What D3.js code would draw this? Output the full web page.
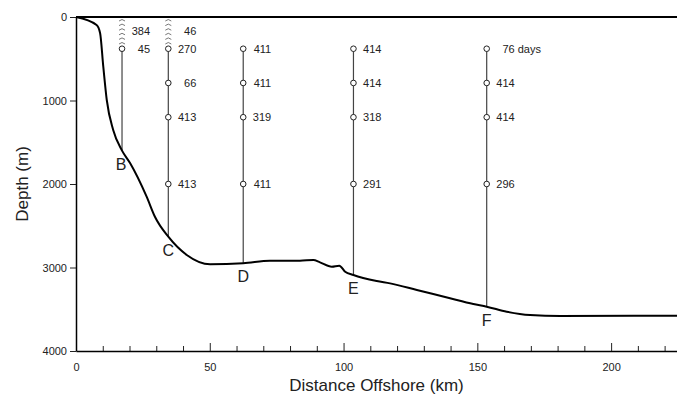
<!DOCTYPE html>
<html>
<head>
<meta charset="utf-8">
<script src="https://cdn.jsdelivr.net/npm/d3@7"></script>
<style>
  body { margin: 0; background: #fff; }
  svg { display: block; font-family: "Liberation Sans", Arial, sans-serif; }
</style>
</head>
<body>
<div id="chart"></div>
<script>
// bathymetry profile
const profileKm    = [0, 7.7, 9, 10.2, 11.5, 13.9, 17.2, 20.2, 26.4, 29.5, 34.5, 41.4, 50.1, 62.5, 72.5, 83.7, 88.7, 91.2, 95.6, 98.4, 100.6, 103.7, 112.4, 117.4, 127.4, 139.8, 148.5, 153.5, 161, 169.7, 181, 225];
const profileDepth = [0, 96, 192, 595, 994, 1353, 1600, 1749, 2152, 2392, 2631, 2850, 2962, 2950, 2918, 2918, 2910, 2938, 2990, 2978, 3050, 3090, 3162, 3190, 3269, 3369, 3437, 3469, 3529, 3569, 3581, 3577];

// moorings
const stationNames = ['B', 'C', 'D', 'E', 'F'];
const stationKm    = [17.2, 34.5, 62.5, 103.7, 153.5];
const instrumentDepths = [380, 790, 1200, 2000];
// record length (days) per instrument, null = no instrument
const recordDays = [
  ['45', null, null, null],
  ['270', '66', '413', '413'],
  ['411', '411', '319', '411'],
  ['414', '414', '318', '291'],
  ['76', '414', '414', '296']
];
// upward-looking profiler records above the top instrument
const profilerDays = ['384', '46', null, null, null];

const xTicksMajor = [0, 50, 100, 150, 200];
const yTicks = [0, 1000, 2000, 3000, 4000];

const W = 677, H = 399;
const svg = d3.select('#chart').append('svg').attr('width', W).attr('height', H);

const x = d3.scaleLinear().domain([0, 225]).range([76, 678]);
const y = d3.scaleLinear().domain([0, 4000]).range([17, 351]);

const depthAt = km => {
  const i = d3.bisectLeft(profileKm, km);
  if (i <= 0) return profileDepth[0];
  const t = (km - profileKm[i - 1]) / (profileKm[i] - profileKm[i - 1]);
  return profileDepth[i - 1] + t * (profileDepth[i] - profileDepth[i - 1]);
};

// axes
const minorTicks = d3.range(0, 226, 10).filter(d => d % 50 !== 0);
svg.append('g')
  .attr('transform', `translate(0,${y(4000)})`)
  .call(d3.axisBottom(x).tickValues(minorTicks).tickSize(-5).tickFormat(''))
  .call(g => g.select('.domain').remove());
const xAxis = svg.append('g')
  .attr('transform', `translate(0,${y(4000)})`)
  .call(d3.axisBottom(x).tickValues(xTicksMajor).tickSize(-8).tickPadding(12).tickSizeOuter(0));
xAxis.select('.domain').attr('stroke-width', 1.5);

const yAxis = svg.append('g')
  .attr('transform', `translate(${x(0)},0)`)
  .call(d3.axisLeft(y).tickValues(yTicks).tickSize(6).tickPadding(3).tickSizeOuter(0).tickFormat(d3.format('d')));
yAxis.select('.domain').attr('stroke-width', 1.5);

svg.selectAll('.tick text').attr('font-size', 11).attr('fill', '#222').attr('font-family', '"Liberation Sans", Arial, sans-serif');
svg.selectAll('.tick line').attr('stroke', '#222');

// sea surface
svg.append('line')
  .attr('x1', x(0)).attr('x2', W)
  .attr('y1', y(0)).attr('y2', y(0))
  .attr('stroke', '#000').attr('stroke-width', 2);

// station lines
const stations = stationNames.map((name, i) => ({
  name, km: stationKm[i], floor: depthAt(stationKm[i]), days: recordDays[i], profiler: profilerDays[i]
}));

svg.append('g').selectAll('line')
  .data(stations)
  .join('line')
  .attr('x1', d => x(d.km)).attr('x2', d => x(d.km))
  .attr('y1', d => y(instrumentDepths[0]))
  .attr('y2', d => y(d.floor))
  .attr('stroke', '#444').attr('stroke-width', 1.2);

// bathymetry
svg.append('path')
  .datum(profileKm.map((k, i) => [k, profileDepth[i]]))
  .attr('fill', 'none')
  .attr('stroke', '#000')
  .attr('stroke-width', 2)
  .attr('d', d3.line().x(d => x(d[0])).y(d => y(d[1])).curve(d3.curveMonotoneX));

// profiler beams
stations.filter(s => s.profiler).forEach(s => {
  const g = svg.append('g');
  d3.range(6).forEach(k => {
    const yy = y(0) + 2.5 + k * 4.6;
    g.append('path')
      .attr('d', `M${x(s.km) - 3},${yy + 1.5} Q${x(s.km)},${yy - 1.5} ${x(s.km) + 3},${yy + 1.5}`)
      .attr('fill', 'none').attr('stroke', '#555').attr('stroke-width', 0.8);
  });
  svg.append('text')
    .attr('x', x(s.km) + 28).attr('y', y(170) + 4)
    .attr('text-anchor', 'end').attr('font-size', 11).attr('fill', '#222')
    .text(s.profiler);
});

// instruments
stations.forEach(s => {
  s.days.forEach((v, j) => {
    if (v === null) return;
    svg.append('circle')
      .attr('cx', x(s.km)).attr('cy', y(instrumentDepths[j]))
      .attr('r', 2.8)
      .attr('fill', '#fff').attr('stroke', '#222').attr('stroke-width', 1);
    svg.append('text')
      .attr('x', x(s.km) + 28).attr('y', y(instrumentDepths[j]) + 4)
      .attr('text-anchor', 'end').attr('font-size', 11).attr('fill', '#222')
      .text(v);
    if (s.name === 'F' && j === 0) {
      svg.append('text')
        .attr('x', x(s.km) + 31).attr('y', y(instrumentDepths[j]) + 4)
        .attr('font-size', 11).attr('fill', '#222')
        .text('days');
    }
  });
  svg.append('text')
    .attr('x', x(s.km) + (s.name === 'B' ? -1 : 0)).attr('y', y(s.floor) + 19)
    .attr('text-anchor', 'middle').attr('font-size', 16).attr('fill', '#222')
    .text(s.name);
});

// axis titles
svg.append('text')
  .attr('x', (x(0) + W) / 2).attr('y', 391)
  .attr('text-anchor', 'middle').attr('font-size', 17).attr('fill', '#222')
  .text('Distance Offshore (km)');
svg.append('text')
  .attr('transform', `translate(28,${y(2000)}) rotate(-90)`)
  .attr('text-anchor', 'middle').attr('font-size', 17).attr('fill', '#222')
  .text('Depth (m)');
</script>
</body>
</html>
